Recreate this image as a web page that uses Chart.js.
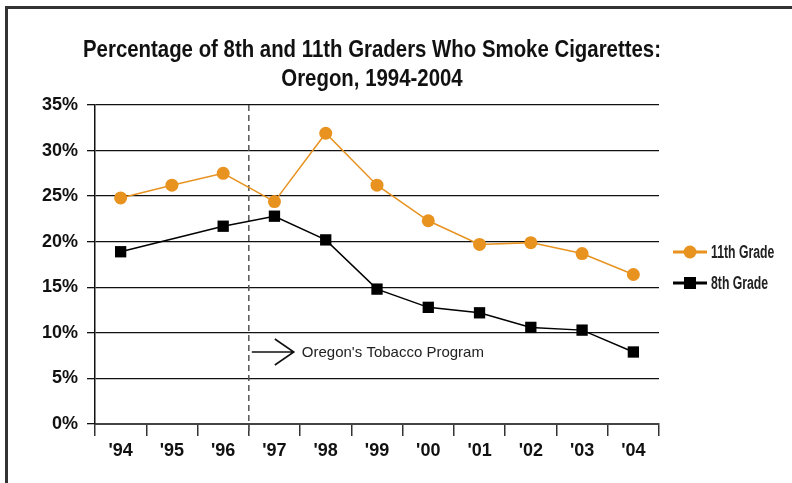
<!DOCTYPE html>
<html>
<head>
<meta charset="utf-8">
<script src="https://cdn.jsdelivr.net/npm/chart.js@4.4.1/dist/chart.umd.min.js"></script>
<style>
html, body { margin: 0; padding: 0; background: #fff; }
#wrap { width: 792px; height: 483px; }
</style>
</head>
<body>
<div id="wrap"><canvas id="smoke-chart" width="792" height="483"></canvas></div>
<script>
// values (percent)
const years = ["'94", "'95", "'96", "'97", "'98", "'99", "'00", "'01", "'02", "'03", "'04"];
const grade11 = [24.8, 26.2, 27.5, 24.4, 31.9, 26.2, 22.3, 19.7, 19.9, 18.7, 16.4];
const grade8 = [18.9, null, 21.7, 22.8, 20.2, 14.8, 12.8, 12.2, 10.6, 10.3, 7.9];
const seriesNames = ['11th Grade', '8th Grade'];
const yMin = 0, yMax = 35, yStep = 5;
const titleLines = ['Percentage of 8th and 11th Graders Who Smoke Cigarettes:', 'Oregon, 1994-2004'];
const programStartAfter = 2; // program starts between '96 and '97
const noteText = "Oregon's Tobacco Program";
const noteValue = 7.9;

const orange = 'rgb(232, 146, 32)';
const sans = "'Liberation Sans', Arial, sans-serif";

const extras = {
    id: 'extras',
    beforeDraw(chart) {
        // outer frame
        const ctx = chart.ctx;
        ctx.save();
        ctx.strokeStyle = '#333';
        ctx.lineWidth = 3;
        ctx.beginPath();
        ctx.moveTo(6.5, chart.height + 5);
        ctx.lineTo(6.5, 7.5);
        ctx.lineTo(chart.width + 5, 7.5);
        ctx.stroke();

        // title, squeezed to look like a condensed face
        const area = chart.chartArea;
        const cx = (area.left + area.right) / 2 - 5;
        ctx.fillStyle = '#111';
        ctx.font = "bold 24px " + sans;
        ctx.textAlign = 'center';
        ctx.textBaseline = 'middle';
        const squeeze = 578 / ctx.measureText(titleLines[0]).width;
        titleLines.forEach((line, i) => {
            const w = ctx.measureText(line).width * squeeze;
            ctx.fillText(line, cx, 50 + i * 29, w);
        });
        ctx.restore();
    },
    beforeDatasetsDraw(chart) {
        const ctx = chart.ctx;
        const x = chart.scales.x, y = chart.scales.y;
        const area = chart.chartArea;
        const dx = (x.getPixelForValue(programStartAfter) + x.getPixelForValue(programStartAfter + 1)) / 2;
        ctx.save();
        ctx.strokeStyle = '#555';
        ctx.lineWidth = 1.5;
        ctx.setLineDash([6, 4]);
        ctx.beginPath();
        ctx.moveTo(dx, area.top);
        ctx.lineTo(dx, area.bottom + 12);
        ctx.stroke();
        ctx.setLineDash([]);
        // arrow + note
        const ny = y.getPixelForValue(noteValue);
        ctx.strokeStyle = '#111';
        ctx.lineWidth = 1.6;
        ctx.beginPath();
        ctx.moveTo(dx + 3, ny);
        ctx.lineTo(dx + 45, ny);
        ctx.moveTo(dx + 26, ny - 13);
        ctx.lineTo(dx + 45, ny);
        ctx.lineTo(dx + 26, ny + 13);
        ctx.stroke();
        ctx.fillStyle = '#222';
        ctx.font = "15px " + sans;
        ctx.textBaseline = 'middle';
        ctx.fillText(noteText, dx + 53, ny + 1);
        ctx.restore();
    },
    afterDraw(chart) {
        // legend: line + marker, then a condensed label
        const ctx = chart.ctx;
        const area = chart.chartArea;
        const midY = (area.top + area.bottom) / 2 + 3;
        ctx.save();
        chart.data.datasets.forEach((ds, i) => {
            const ly = midY + (i - 0.5) * 31;
            const lx = area.right + 14;
            ctx.strokeStyle = ds.borderColor;
            ctx.fillStyle = ds.backgroundColor;
            ctx.lineWidth = 3;
            ctx.beginPath();
            ctx.moveTo(lx, ly);
            ctx.lineTo(lx + 34, ly);
            ctx.stroke();
            if (ds.pointStyle == 'circle') {
                ctx.beginPath();
                ctx.arc(lx + 17, ly, 6.5, 0, Math.PI * 2);
                ctx.fill();
            } else {
                ctx.fillRect(lx + 11, ly - 6, 12, 12);
            }
            ctx.fillStyle = '#222';
            ctx.font = "bold 18px " + sans;
            ctx.textBaseline = 'middle';
            ctx.textAlign = 'left';
            const w = ctx.measureText(ds.label).width * 0.68;
            ctx.fillText(ds.label, lx + 38, ly + 1, w);
        });
        ctx.restore();
    }
};

const config = {
    type: 'line',
    data: {
        labels: years,
        datasets: [{
            label: seriesNames[0],
            data: grade11,
            borderColor: orange,
            backgroundColor: orange,
            borderWidth: 1.5,
            pointStyle: 'circle',
            pointRadius: 6.5,
            pointHoverRadius: 6.5,
            pointBorderWidth: 0
        }, {
            label: seriesNames[1],
            data: grade8,
            borderColor: '#000',
            backgroundColor: '#000',
            borderWidth: 1.5,
            pointStyle: 'rect',
            pointRadius: 8,
            pointHoverRadius: 8,
            pointBorderWidth: 0,
            spanGaps: true
        }]
    },
    options: {
        responsive: false,
        animation: false,
        layout: { padding: { left: 0, right: 133, top: 105, bottom: 0 } },
        scales: {
            x: {
                offset: true,
                grid: {
                    offset: true,
                    drawOnChartArea: true,
                    color: (c) => (c.index == years.length ? '#444' : 'rgba(0,0,0,0)'),
                    lineWidth: 1.5,
                    tickColor: '#333',
                    tickLength: 12,
                    tickWidth: 1.5
                },
                border: { color: '#444', width: 2 },
                ticks: {
                    color: '#111',
                    padding: 4,
                    font: { family: sans, size: 18, weight: 'bold' }
                },
                afterFit: (s) => { s.height = 59; }
            },
            y: {
                min: yMin,
                max: yMax,
                ticks: {
                    stepSize: yStep,
                    color: '#111',
                    padding: 9,
                    font: { family: sans, size: 18, weight: 'bold' },
                    callback: (v) => v + '%'
                },
                grid: { color: '#111', lineWidth: 1.3, tickLength: 8 },
                border: { color: '#111', width: 1.5 },
                afterFit: (s) => { s.width = 95; }
            }
        },
        plugins: {
            legend: { display: false },
            tooltip: { enabled: false }
        }
    },
    plugins: [extras]
};

const smoke_canvas = document.getElementById('smoke-chart');
const smoke_chart = new Chart(smoke_canvas, config);
</script>
</body>
</html>
